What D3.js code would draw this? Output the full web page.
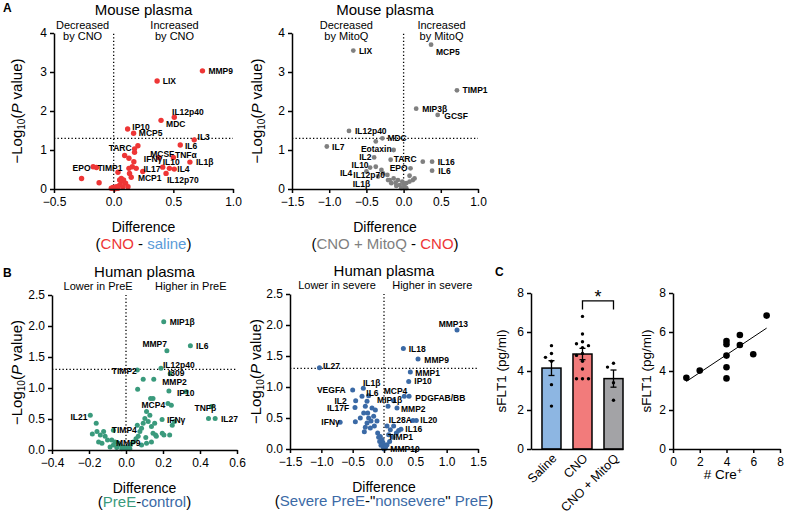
<!DOCTYPE html>
<html><head><meta charset="utf-8">
<script src="https://cdn.jsdelivr.net/npm/d3@7"></script>
<style>
body{margin:0;background:#fff}
svg{display:block;font-family:"Liberation Sans",Arial,Helvetica,sans-serif}
</style></head><body>
<svg id="c" width="785" height="518"></svg>
<script>
// ---------- DATA ----------
// Panel A (left): CNO - saline, [difference, -log10 p]
const a1Points = [[0.744,3.03],[0.364,2.77],[0.508,1.84],[0.397,1.76],[0.117,1.54],[0.167,1.43],[0.675,1.26],[0.558,1.13],[0.203,1.11],[0.175,1.03],[0.175,0.94],[0.092,0.86],[0.128,0.79],[0.169,0.70],[0.378,0.81],[0.50,0.81],[0.639,0.69],[0.411,0.56],[0.467,0.53],[0.508,0.51],[0.439,0.40],[-0.172,0.57],[-0.144,0.55],[-0.269,0.27],[-0.122,0.16],[0.036,0.43],[0.128,0.53],[0.156,0.57],[0.189,0.53],[0.133,0.40],[0.147,0.30],[0.244,0.45],[0.10,0.15],[0.064,0.19],[0.05,0.10],[0.022,0.06],[-0.006,0.04],[0.078,0.06],[0.036,0.02],[0.008,0.0],[0.064,0.27],[0.083,0.23],[0.12,0.06],[-0.02,0.02],[0.05,0.23]];
const a1Labels = [["MMP9",0.794,3.03],["LIX",0.411,2.77],["IL12p40",0.489,1.97],["MDC",0.439,1.67],["IP10",0.156,1.60],["MCP5",0.211,1.43],["IL3",0.703,1.34],["IL6",0.597,1.11],["TARC",-0.042,1.04],["MCSF",0.306,0.90],["IFNγ",0.253,0.76],["TNFα",0.514,0.86],["IL1β",0.689,0.68],["IL10",0.411,0.69],["IL17",0.25,0.51],["IL4",0.533,0.51],["EPO",-0.344,0.55],["TIMP1",-0.136,0.55],["MCP1",0.203,0.27],["IL12p70",0.447,0.23]];
// Panel A (right): CNO + MitoQ - CNO
const a2Points = [[-0.676,3.55],[0.369,3.70],[0.717,2.53],[0.169,2.06],[0.458,1.90],[-0.734,1.49],[-0.374,1.22],[-0.285,1.30],[-1.032,1.09],[-0.134,1.0],[-0.396,0.81],[-0.174,0.75],[0.258,0.70],[0.383,0.70],[0.383,0.47],[0.093,0.53],[-0.374,0.57],[-0.298,0.49],[-0.276,0.40],[-0.343,0.32],[-0.218,0.36],[-0.187,0.23],[-0.134,0.27],[-0.107,0.16],[-0.076,0.23],[-0.053,0.10],[-0.018,0.19],[0.013,0.06],[0.036,0.15],[0.08,0.19],[0.125,0.23],[0.08,0.34],[0.147,0.27],[-0.031,0.02],[-0.098,0.08],[-0.165,0.15],[-0.209,0.23],[0,0.13],[0.036,0.02],[-0.45,0.55],[-0.5,0.45]];
const a2Labels = [["LIX",-0.601,3.55],["MCP5",0.436,3.50],["TIMP1",0.792,2.53],["MIP3β",0.249,2.06],["GCSF",0.547,1.88],["IL12p40",-0.654,1.49],["MDC",-0.218,1.30],["IL7",-0.961,1.07],["Eotaxin",-0.574,1.03],["IL2",-0.596,0.83],["TARC",-0.134,0.76],["IL16",0.458,0.68],["EPO",-0.187,0.53],["IL6",0.467,0.46],["IL10",-0.699,0.62],["IL4",-0.855,0.42],["IL12p70",-0.676,0.36],["IL1β",-0.685,0.12]];
// Panel B (left): PreE - control
const b1Points = [[0.204,2.07],[0.221,1.60],[0.348,1.68],[0.189,1.32],[0.061,1.29],[0.239,1.23],[0.093,1.14],[0.15,1.14],[0.232,0.95],[0.325,0.94],[0.063,0.98],[0.227,0.75],[0.245,0.72],[0.146,0.83],[0.462,0.70],[0.446,0.51],[0.482,0.51],[0.195,0.49],[-0.193,0.56],[0.061,0.40],[-0.161,0.43],[-0.182,0.26],[-0.157,0.30],[-0.139,0.24],[-0.121,0.30],[-0.113,0.22],[-0.1,0.16],[-0.077,0.16],[-0.068,0.32],[-0.059,0.13],[-0.041,0.11],[-0.032,0.08],[-0.018,0.05],[0,0.03],[0.0125,0.05],[0.025,0.09],[0.039,0.13],[0.054,0.18],[0.066,0.22],[0.075,0.30],[0.084,0.35],[0.093,0.43],[0.102,0.51],[0.111,0.62],[0.129,0.56],[0.12,0.46],[0.1375,0.38],[0.146,0.27],[0.155,0.43],[0.164,0.22],[0.107,0.2],[0.1375,0.13],[0.111,0.11],[0.084,0.08],[0.205,0.24],[0.236,0.24],[0.25,0.40],[0.262,0.46],[-0.086,0.05],[-0.068,0.08],[-0.05,0.04],[-0.023,0.02],[-0.011,0.04],[0.021,0.02],[-0.148,0.13],[-0.13,0.11],[0.133,0.83],[0.16,0.24],[0.196,0.27]];
const b1Labels = [["MIP1β",0.236,2.07],["MMP7",0.089,1.71],["IL6",0.379,1.67],["IL12p40",0.2,1.37],["TIMP2",-0.077,1.27],["I309",0.227,1.24],["MMP2",0.196,1.10],["IP10",0.275,0.92],["MCP4",0.084,0.73],["TNFβ",0.37,0.68],["IL27",0.513,0.50],["IFNγ",0.221,0.48],["IL21",-0.3,0.53],["TIMP4",-0.077,0.32],["MMP9",-0.054,0.11]];
// Panel B (right): severe PreE - nonsevere PreE
const b2Points = [[1.165,1.92],[0.309,1.62],[0.543,1.45],[-1.03,1.31],[0.42,1.24],[0.394,1.09],[-0.33,0.98],[-0.5,0.95],[-0.351,0.85],[0.324,0.85],[0.40,0.85],[0.154,0.78],[-0.452,0.78],[0.207,0.66],[0.064,0.69],[-0.463,0.67],[-0.7,0.43],[0.463,0.46],[0.516,0.46],[0.271,0.32],[-0.245,0.86],[-0.271,0.77],[-0.298,0.69],[-0.324,0.58],[-0.378,0.50],[-0.245,0.50],[-0.271,0.42],[-0.218,0.34],[-0.314,0.28],[-0.457,0.44],[-0.191,0.66],[-0.138,0.63],[-0.165,0.53],[-0.112,0.45],[-0.154,0.37],[-0.101,0.26],[-0.059,0.20],[-0.032,0.15],[-0.016,0.10],[-0.005,0.04],[0.021,0.02],[0.048,0.07],[0.09,0.12],[0.144,0.19],[0.197,0.26],[0.234,0.30],[0.101,0.31],[0.048,0.37],[0.154,0.37],[0.074,0.23],[-0.069,0.12],[-0.048,0.06],[-0.085,0.19],[-0.298,0.35],[-0.207,0.45],[-0.26,0.58],[0.0,0.0],[0.01,0.01],[-0.01,0.03],[0.03,0.05]];
const b2Labels = [["MMP13",0.872,2.02],["IL18",0.394,1.62],["MMP9",0.644,1.44],["IL27",-0.973,1.34],["MMP1",0.5,1.23],["IP10",0.484,1.09],["IL1β",-0.335,1.06],["VEGFA",-1.07,0.95],["IL6",-0.282,0.90],["MCP4",-0.005,0.93],["MIP1β",-0.11,0.79],["PDGFAB/BB",0.5,0.83],["IL2",-0.79,0.77],["MMP2",0.271,0.65],["IL17F",-0.91,0.66],["IFNγ",-1.0,0.43],["IL28A",0.074,0.47],["IL20",0.58,0.46],["IL16",0.34,0.32],["TIMP1",0.064,0.20],["MMP10",0.101,0.0]];
// Panel C (left): sFLT1 bars
const cGroups = ["Saline","CNO","CNO + MitoQ"];
const cMeans = [4.15, 4.87, 3.61];
const cSems = [0.38, 0.29, 0.44];
const cSaline = [5.3,4.9,4.7,4.5,3.3,2.2];
const cCno = [6.8,5.9,5.5,5.4,5.3,5.2,4.9,4.8,4.5,4.1,3.6,3.6,3.6];
const cMitoq = [4.4,4.2,3.4,2.5];
// Panel C (right): sFLT1 vs # Cre+
const cCre = [1,2,4,4,4,4,4,5,5,6,7];
const cSflt = [3.65,4.02,5.54,5.37,4.79,4.19,3.62,5.85,5.33,4.86,6.84];
const volcanoXTicksA1 = [-0.5,0,0.5,1.0];
const volcanoXTicksA2 = [-1.5,-1.0,-0.5,0,0.5,1.0];
const volcanoXTicksB1 = [-0.4,-0.2,0,0.2,0.4,0.6];
const volcanoXTicksB2 = [-1.5,-1.0,-0.5,0,0.5,1.0,1.5];
const cTicks = [0,2,4,6,8];

// ---------- DRAW ----------
const svg = d3.select("#c");
const RED="#ee3636", GREY="#808080", TEAL="#3a9a7c", BLUE="#3b6aa6", LBLUE="#5b9bd8";

function styleAxis(g){
  g.select(".domain").attr("stroke","#000").attr("stroke-width",1.5);
  g.selectAll(".tick line").attr("stroke","#000").attr("stroke-width",1.5);
  g.selectAll(".tick text").attr("fill","#000").style("font-size","12px");
}
function logYLabel(cx,cy){
  const t=svg.append("text").attr("transform",`translate(${cx},${cy}) rotate(-90)`).attr("text-anchor","middle").style("font-size","15px");
  t.append("tspan").text("−Log");
  t.append("tspan").text("10").style("font-size","10px").attr("dy",3);
  t.append("tspan").text("(").attr("dy",-3);
  t.append("tspan").text("P").style("font-style","italic");
  t.append("tspan").text(" value)");
}
function plainYLabel(cx,cy,txt){
  svg.append("text").attr("transform",`translate(${cx},${cy}) rotate(-90)`).attr("text-anchor","middle").style("font-size","13.5px").text(txt);
}
function volcano(c){
  const x=d3.scaleLinear().domain(c.xDomain).range(c.xRange);
  const y=d3.scaleLinear().domain(c.yDomain).range(c.yRange);
  const [x0,x1]=c.xRange,[yb,yt]=c.yRange;
  const g=svg.append("g");
  g.append("line").attr("x1",x0).attr("x2",x1).attr("y1",y(1.3)).attr("y2",y(1.3))
    .attr("stroke","#000").attr("stroke-width",1.3).attr("stroke-dasharray","1.3,2.2");
  g.append("line").attr("x1",x(0)).attr("x2",x(0)).attr("y1",yb).attr("y2",yt)
    .attr("stroke","#000").attr("stroke-width",1.3).attr("stroke-dasharray","1.3,2.2");
  g.append("g").selectAll("circle").data(c.pts).join("circle")
    .attr("cx",d=>x(d[0])).attr("cy",d=>y(d[1])).attr("r",c.r).attr("fill",c.color);
  g.append("g").selectAll("text").data(c.labels).join("text")
    .attr("x",d=>x(d[1])).attr("y",d=>y(d[2])).attr("dy","0.35em")
    .style("font-size","8.5px").style("font-weight","bold").text(d=>d[0]);
  const ax=g.append("g").attr("transform",`translate(0,${yb})`)
    .call(d3.axisBottom(x).tickValues(c.xTicks).tickFormat(d3.format(".1f")).tickSize(4).tickSizeOuter(0).tickPadding(4));
  styleAxis(ax);
  const ay=g.append("g").attr("transform",`translate(${x0},0)`)
    .call(d3.axisLeft(y).tickValues(c.yTicks).tickFormat(d3.format(c.yFmt)).tickSize(4).tickSizeOuter(0).tickPadding(3));
  styleAxis(ay);
  const cx=(x0+x1)/2;
  svg.append("text").attr("x",cx).attr("y",yt-18).attr("text-anchor","middle").style("font-size","15px").text(c.title);
  c.ann.forEach(a=>{
    const t=svg.append("text").attr("y",yt+c.annDy).attr("text-anchor","middle").style("font-size","11px");
    a[1].forEach((s,i)=>t.append("tspan").attr("x",x(a[0])).attr("dy",i?11:0).text(s));
  });
  svg.append("text").attr("x",cx).attr("y",yb+43).attr("text-anchor","middle").style("font-size","14px").text("Difference");
  const st=svg.append("text").attr("x",cx).attr("y",yb+c.subDy).attr("text-anchor","middle").style("font-size","15px");
  c.sub.forEach(p=>st.append("tspan").attr("fill",p[1]).text(p[0]));
  logYLabel(c.ylabX,(yb+yt)/2);
}

volcano({xDomain:[-0.5,1.0],xRange:[54,233],yDomain:[0,4],yRange:[189,33],xTicks:volcanoXTicksA1,yTicks:[0,1,2,3,4],yFmt:"d",
  pts:a1Points,labels:a1Labels,color:RED,r:2.7,title:"Mouse plasma",annDy:-4.5,
  ann:[[-0.26,["Decreased","by CNO"]],[0.51,["Increased","by CNO"]]],subDy:60,
  sub:[["(","#000"],["CNO",RED],[" - ","#000"],["saline",LBLUE],[")","#000"]],ylabX:22});
volcano({xDomain:[-1.5,1.0],xRange:[292,478],yDomain:[0,4],yRange:[189,33],xTicks:volcanoXTicksA2,yTicks:[0,1,2,3,4],yFmt:"d",
  pts:a2Points,labels:a2Labels,color:GREY,r:2.4,title:"Mouse  plasma",annDy:-4.5,
  ann:[[-0.77,["Decreased","by MitoQ"]],[0.51,["Increased","by MitoQ"]]],subDy:60,
  sub:[["(","#000"],["CNO + MitoQ",GREY],[" - ","#000"],["CNO",RED],[")","#000"]],ylabX:262});
volcano({xDomain:[-0.4,0.6],xRange:[52,237],yDomain:[0,2.5],yRange:[450,295],xTicks:volcanoXTicksB1,yTicks:[0,0.5,1,1.5,2,2.5],yFmt:".1f",
  pts:b1Points,labels:b1Labels,color:TEAL,r:2.5,title:"Human plasma",annDy:-5,
  ann:[[-0.151,["Lower in PreE"]],[0.35,["Higher in PreE"]]],subDy:57,
  sub:[["(","#000"],["PreE",TEAL],["-","#000"],["control",BLUE],[")","#000"]],ylabX:22});
volcano({xDomain:[-1.5,1.5],xRange:[290,478],yDomain:[0,2.5],yRange:[449,294],xTicks:volcanoXTicksB2,yTicks:[0,0.5,1,1.5,2,2.5],yFmt:".1f",
  pts:b2Points,labels:b2Labels,color:BLUE,r:2.5,title:"Human plasma",annDy:-5,
  ann:[[-0.75,["Lower in severe"]],[0.77,["Higher in severe"]]],subDy:57,
  sub:[["(","#000"],["Severe PreE",BLUE],["-\"","#000"],["nonsevere",BLUE],["\" ","#000"],["PreE",BLUE],[")","#000"]],ylabX:261});

// Panel letters
[["A",3,12],["B",3,277],["C",495,276]].forEach(p=>svg.append("text").attr("x",p[1]).attr("y",p[2]).style("font-size","12px").style("font-weight","bold").text(p[0]));

// ---------- Panel C left: bar chart ----------
(function(){
  const y=d3.scaleLinear().domain([0,8]).range([449,293]);
  const x=d3.scaleBand().domain(cGroups).range([531,623]).paddingInner(0.387).paddingOuter(0.177).align(1);
  const fills=["#8db6e2","#f27b7b","#a3a3a6"];
  const g=svg.append("g");
  g.selectAll("rect").data(cGroups).join("rect")
    .attr("x",d=>x(d)).attr("width",x.bandwidth())
    .attr("y",(d,i)=>y(cMeans[i])).attr("height",(d,i)=>y(0)-y(cMeans[i]))
    .attr("fill",(d,i)=>fills[i]).attr("stroke","#000").attr("stroke-width",1.5);
  cGroups.forEach((grp,i)=>{
    const cx=x(grp)+x.bandwidth()/2, hi=y(cMeans[i]+cSems[i]), lo=y(cMeans[i]-cSems[i]);
    g.append("line").attr("x1",cx).attr("x2",cx).attr("y1",hi).attr("y2",lo).attr("stroke","#000").attr("stroke-width",1.3);
    [hi,lo].forEach(yy=>g.append("line").attr("x1",cx-3).attr("x2",cx+3).attr("y1",yy).attr("y2",yy).attr("stroke","#000").attr("stroke-width",1.3));
    // dots, simple beeswarm
    const vals=[cSaline,cCno,cMitoq][i].slice().sort((a,b)=>b-a);
    const placed=[];
    vals.forEach(v=>{
      const yy=y(v);
      for(const off of [0,-6,6,-11,11]){
        if(placed.every(p=>Math.hypot(p[0]-(cx+off),p[1]-yy)>=4.5)){placed.push([cx+off,yy]);break;}
      }
    });
    g.selectAll(null).data(placed).join("circle").attr("cx",d=>d[0]).attr("cy",d=>d[1]).attr("r",1.7).attr("fill","#000");
  });
  const ax=g.append("g").attr("transform","translate(0,449)").call(d3.axisBottom(x).tickSize(0).tickSizeOuter(0));
  styleAxis(ax);
  ax.selectAll(".tick text").attr("transform","rotate(-45)").attr("text-anchor","end").attr("x",-3).attr("y",7).attr("dy","0.35em").style("font-size","12.5px");
  const ay=g.append("g").attr("transform","translate(531,0)").call(d3.axisLeft(y).tickValues(cTicks).tickSize(4).tickSizeOuter(0).tickPadding(3));
  styleAxis(ay);
  // significance bracket
  const c1=x(cGroups[1])+x.bandwidth()/2, c2=x(cGroups[2])+x.bandwidth()/2;
  g.append("path").attr("d",`M${c1},${y(7.15)}V${y(7.6)}H${c2}V${y(7.15)}`).attr("fill","none").attr("stroke","#000").attr("stroke-width",1.3);
  g.append("text").attr("x",(c1+c2)/2).attr("y",y(7.6)+2).attr("text-anchor","middle").style("font-size","18px").text("*");
  plainYLabel(506,371,"sFLT1 (pg/ml)");
})();

// ---------- Panel C right: scatter ----------
(function(){
  const y=d3.scaleLinear().domain([0,8]).range([449,293]);
  const x=d3.scaleLinear().domain([0,8]).range([673,780]);
  const g=svg.append("g");
  const mx=d3.mean(cCre), my=d3.mean(cSflt);
  const slope=d3.sum(cCre,(v,i)=>(v-mx)*(cSflt[i]-my))/d3.sum(cCre,v=>(v-mx)**2);
  const icpt=my-slope*mx;
  const xa=d3.min(cCre), xb=d3.max(cCre);
  g.append("line").attr("x1",x(xa)).attr("x2",x(xb)).attr("y1",y(icpt+slope*xa)).attr("y2",y(icpt+slope*xb)).attr("stroke","#000").attr("stroke-width",1);
  g.selectAll("circle").data(cCre).join("circle").attr("cx",d=>x(d)).attr("cy",(d,i)=>y(cSflt[i])).attr("r",3.3).attr("fill","#000");
  const ax=g.append("g").attr("transform","translate(0,449)").call(d3.axisBottom(x).tickValues(cTicks).tickSize(4).tickSizeOuter(0).tickPadding(4));
  styleAxis(ax);
  const ay=g.append("g").attr("transform","translate(673,0)").call(d3.axisLeft(y).tickValues(cTicks).tickSize(4).tickSizeOuter(0).tickPadding(3));
  styleAxis(ay);
  const t=svg.append("text").attr("x",723).attr("y",479).attr("text-anchor","middle").style("font-size","13.5px");
  t.append("tspan").text("# Cre");
  t.append("tspan").text("+").style("font-size","9px").attr("dy",-5);
  plainYLabel(651,371,"sFLT1 (pg/ml)");
})();
</script></body></html>
